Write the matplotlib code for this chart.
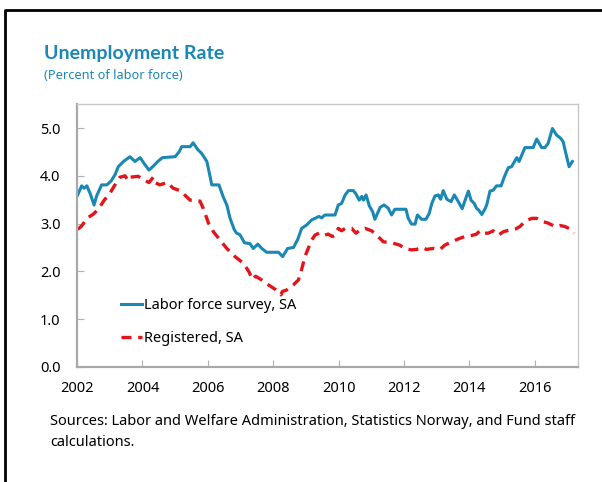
import matplotlib
matplotlib.use("Agg")
import matplotlib.pyplot as plt
from matplotlib.lines import Line2D

plt.rcParams['font.family'] = ['Noto Sans', 'DejaVu Sans']

# Labor force survey, SA (year, percent)
lfs_t = [2002.02, 2002.14, 2002.22, 2002.30, 2002.40, 2002.52, 2002.60, 2002.75, 2002.91,
         2003.04, 2003.16, 2003.26, 2003.42, 2003.62, 2003.77, 2003.93, 2004.08, 2004.20,
         2004.33, 2004.47, 2004.61, 2005.00, 2005.12, 2005.20, 2005.46, 2005.55, 2005.69,
         2005.81, 2005.97, 2006.07, 2006.12, 2006.34, 2006.47, 2006.58, 2006.68, 2006.81,
         2006.88, 2006.98, 2007.12, 2007.29, 2007.39, 2007.53, 2007.65, 2007.80, 2008.16,
         2008.29, 2008.44, 2008.62, 2008.75, 2008.87, 2009.02, 2009.18, 2009.28, 2009.40,
         2009.48, 2009.58, 2009.89, 2009.99, 2010.09, 2010.20, 2010.30, 2010.45, 2010.53,
         2010.63, 2010.71, 2010.76, 2010.84, 2010.94, 2011.04, 2011.11, 2011.27, 2011.39,
         2011.52, 2011.62, 2011.72, 2012.06, 2012.13, 2012.23, 2012.34, 2012.41, 2012.54,
         2012.67, 2012.77, 2012.85, 2012.95, 2013.05, 2013.12, 2013.20, 2013.31, 2013.44,
         2013.54, 2013.66, 2013.78, 2013.89, 2013.97, 2014.05, 2014.15, 2014.22, 2014.29,
         2014.38, 2014.48, 2014.53, 2014.63, 2014.73, 2014.83, 2014.97, 2015.07, 2015.19,
         2015.29, 2015.45, 2015.52, 2015.60, 2015.70, 2015.95, 2016.06, 2016.21, 2016.31,
         2016.41, 2016.54, 2016.67, 2016.80, 2016.87, 2016.94, 2017.05, 2017.15]
lfs_v = [3.60, 3.79, 3.74, 3.79, 3.63, 3.39, 3.58, 3.81, 3.81,
         3.89, 4.02, 4.19, 4.30, 4.40, 4.30, 4.38, 4.23, 4.12,
         4.20, 4.30, 4.38, 4.40, 4.50, 4.61, 4.61, 4.69, 4.55,
         4.47, 4.30, 3.98, 3.81, 3.81, 3.56, 3.39, 3.11, 2.87,
         2.80, 2.77, 2.60, 2.58, 2.48, 2.57, 2.48, 2.40, 2.40,
         2.31, 2.48, 2.50, 2.67, 2.90, 2.97, 3.08, 3.11, 3.15,
         3.12, 3.18, 3.18, 3.39, 3.42, 3.60, 3.69, 3.69, 3.62,
         3.49, 3.57, 3.49, 3.60, 3.37, 3.25, 3.09, 3.34, 3.39,
         3.32, 3.18, 3.30, 3.30, 3.11, 2.99, 2.99, 3.18, 3.09,
         3.09, 3.21, 3.42, 3.58, 3.60, 3.51, 3.69, 3.51, 3.46,
         3.60, 3.46, 3.31, 3.53, 3.68, 3.49, 3.42, 3.32, 3.28,
         3.19, 3.31, 3.39, 3.68, 3.70, 3.79, 3.79, 3.98, 4.17,
         4.19, 4.38, 4.30, 4.43, 4.59, 4.59, 4.77, 4.59, 4.59,
         4.68, 4.99, 4.85, 4.78, 4.71, 4.50, 4.19, 4.30]

# Registered, SA (year, percent)
reg_t = [2002.02, 2002.14, 2002.30, 2002.50, 2002.65, 2002.83, 2003.00, 2003.16, 2003.31,
         2003.47, 2003.56, 2003.62, 2003.87, 2004.03, 2004.20, 2004.33, 2004.38, 2004.53,
         2004.76, 2004.94, 2005.15, 2005.46, 2005.76, 2005.86, 2006.02, 2006.17, 2006.37,
         2006.58, 2006.83, 2007.09, 2007.26, 2007.36, 2007.46, 2007.65, 2007.85, 2008.07,
         2008.24, 2008.28, 2008.41, 2008.62, 2008.77, 2008.85, 2008.97, 2009.07, 2009.18,
         2009.28, 2009.43, 2009.58, 2009.68, 2009.81, 2009.89, 2009.99, 2010.09, 2010.20,
         2010.40, 2010.53, 2010.66, 2010.81, 2011.01, 2011.16, 2011.37, 2011.67, 2011.87,
         2012.02, 2012.23, 2012.38, 2012.54, 2012.69, 2012.89, 2013.10, 2013.25, 2013.46,
         2013.66, 2013.86, 2014.06, 2014.22, 2014.32, 2014.42, 2014.58, 2014.73, 2014.89,
         2015.04, 2015.25, 2015.42, 2015.55, 2015.70, 2015.91, 2016.06, 2016.21, 2016.41,
         2016.62, 2016.77, 2016.92, 2017.07, 2017.20]
reg_v = [2.88, 2.95, 3.11, 3.20, 3.30, 3.49, 3.63, 3.81, 3.97,
         4.00, 3.90, 3.97, 3.99, 3.92, 3.86, 3.97, 3.86, 3.81,
         3.86, 3.74, 3.69, 3.49, 3.47, 3.32, 3.01, 2.83, 2.66,
         2.48, 2.31, 2.17, 1.99, 1.83, 1.90, 1.82, 1.72, 1.62,
         1.51, 1.58, 1.61, 1.72, 1.82, 1.99, 2.31, 2.48, 2.66,
         2.76, 2.81, 2.76, 2.78, 2.73, 2.76, 2.90, 2.85, 2.90,
         2.90, 2.80, 2.87, 2.90, 2.85, 2.76, 2.62, 2.59, 2.55,
         2.48, 2.45, 2.46, 2.50, 2.46, 2.48, 2.46, 2.55, 2.62,
         2.68, 2.73, 2.75, 2.78, 2.85, 2.80, 2.80, 2.85, 2.76,
         2.83, 2.87, 2.89, 2.94, 3.05, 3.11, 3.11, 3.05, 3.01,
         2.94, 2.96, 2.94, 2.89, 2.80]

years = [2002, 2004, 2006, 2008, 2010, 2012, 2014, 2016]
yticks = [0.0, 1.0, 2.0, 3.0, 4.0, 5.0]

blue = '#1a87b4'
red = '#e3151b'

fig = plt.figure(figsize=(6.02, 4.82), dpi=100)
ax = fig.add_axes([0.128, 0.2386, 0.832, 0.5454])

ax.plot(lfs_t, lfs_v, color=blue, lw=2.2, label='Labor force survey, SA')
ax.plot(reg_t, reg_v, color=red, lw=2.4, ls=(0, (3, 2)), label='Registered, SA')

ax.set_xlim(2002, 2017.32)
ax.set_ylim(0, 5.5)
ax.set_xticks(years)
ax.set_xticklabels([str(y) for y in years])
ax.set_yticks(yticks)
ax.set_yticklabels(['%.1f' % v for v in yticks])
ax.tick_params(axis='both', direction='in', length=5, color='#b0b0b0',
               labelsize=10.5, labelcolor='black')
ax.tick_params(axis='x', pad=10)
ax.tick_params(axis='y', pad=12)

for s in ['left', 'bottom']:
    ax.spines[s].set_color('#a8a8a8')
    ax.spines[s].set_linewidth(1.6)
for s in ['top', 'right']:
    ax.spines[s].set_color('#c8c8c8')
    ax.spines[s].set_linewidth(1.0)

leg = ax.legend(loc='lower left', bbox_to_anchor=(0.062, 0.03), frameon=False,
                fontsize=10.5, handlelength=1.45, handletextpad=0.1, labelspacing=1.25)

fig.text(0.073, 0.878, 'Unemployment Rate', color=blue, fontsize=14, fontweight='bold',
         family=['Lato', 'DejaVu Sans'])
fig.text(0.073, 0.836, '(Percent of labor force)', color=blue, fontsize=9.2)
fig.text(0.083, 0.118, 'Sources: Labor and Welfare Administration, Statistics Norway, and Fund staff',
         fontsize=10.5)
fig.text(0.083, 0.075, 'calculations.', fontsize=10.5)

# outer frame (top and left edges)
fig.add_artist(Line2D([0.009, 0.009, 1.0], [0.0, 0.979, 0.979], color='black', lw=2,
                      transform=fig.transFigure))

fig.savefig('out.png', dpi=100)
